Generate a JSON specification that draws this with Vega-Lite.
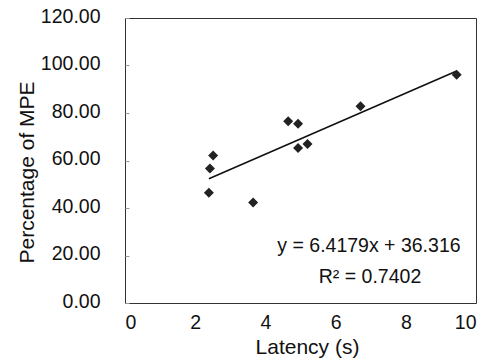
{
  "$schema": "https://vega.github.io/schema/vega-lite/v6.json",
  "width": 351,
  "height": 285,
  "autosize": {"type": "none"},
  "padding": {"left": 125, "top": 18, "right": 15, "bottom": 56},
  "background": "white",
  "config": {
    "font": "Liberation Sans",
    "view": {"stroke": "#333333", "strokeWidth": 1},
    "axis": {
      "domain": false,
      "grid": false,
      "labelFont": "Liberation Sans",
      "titleFont": "Liberation Sans",
      "labelColor": "#111111",
      "titleColor": "#111111",
      "labelFontSize": 19.5,
      "titleFontSize": 21,
      "titleFontWeight": "normal"
    }
  },
  "layer": [
    {
      "data": {"name": "pts", "values": [
        {"latency": 9.45, "pct": 96.1},
        {"latency": 6.71, "pct": 82.8},
        {"latency": 4.65, "pct": 76.5},
        {"latency": 4.93, "pct": 75.5},
        {"latency": 4.93, "pct": 65.3},
        {"latency": 5.2, "pct": 67.0},
        {"latency": 2.51, "pct": 62.1},
        {"latency": 2.42, "pct": 56.6},
        {"latency": 2.39, "pct": 46.4},
        {"latency": 3.65, "pct": 42.3}
      ]},
      "transform": [{"regression": "pct", "on": "latency"}],
      "mark": {"type": "line", "color": "#111111", "strokeWidth": 1.6},
      "encoding": {
        "x": {"field": "latency", "type": "quantitative"},
        "y": {"field": "pct", "type": "quantitative"}
      }
    },
    {
      "data": {"name": "pts"},
      "mark": {"type": "point", "shape": "diamond", "filled": true, "size": 100, "color": "#222222", "opacity": 1},
      "encoding": {
        "x": {
          "field": "latency", "type": "quantitative",
          "scale": {"domain": [0, 10], "nice": false, "zero": false},
          "axis": {
            "values": [0, 2, 4, 6, 8, 10],
            "ticks": false,
            "labelPadding": 10,
            "title": "Latency (s)",
            "titleX": 182,
            "titleY": 50,
            "titleBaseline": "alphabetic",
            "titleAnchor": "middle",
            "titleAlign": "center"
          }
        },
        "y": {
          "field": "pct", "type": "quantitative",
          "scale": {"domain": [0, 120], "nice": false},
          "axis": {
            "values": [0, 20, 40, 60, 80, 100, 120],
            "format": ".2f",
            "ticks": true,
            "tickSize": -4,
            "tickColor": "#999999",
            "labelPadding": 29,
            "labelOffset": -2,
            "title": "Percentage of MPE",
            "titleX": -98,
            "titleY": 154,
            "titleAngle": -90,
            "titleBaseline": "middle",
            "titleAlign": "center"
          }
        }
      }
    },
    {
      "data": {"values": [
        {"tx": 6.95, "ty": 21.6, "label": "y = 6.4179x + 36.316"},
        {"tx": 6.98, "ty": 8.3, "label": "R² = 0.7402"}
      ]},
      "mark": {"type": "text", "fontSize": 19.5, "font": "Liberation Sans", "color": "#111111", "align": "center", "baseline": "alphabetic"},
      "encoding": {
        "x": {"field": "tx", "type": "quantitative"},
        "y": {"field": "ty", "type": "quantitative"},
        "text": {"field": "label"}
      }
    }
  ]
}
